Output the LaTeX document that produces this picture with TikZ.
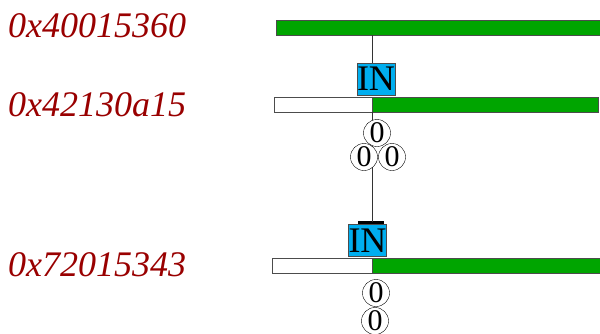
\documentclass[tikz,border=0pt]{standalone}
\usepackage{fontspec}
\setmainfont{Liberation Serif}
\definecolor{addrred}{RGB}{153,0,0}
\definecolor{bargreen}{RGB}{0,165,0}
\definecolor{inblue}{RGB}{0,174,239}
\tikzset{
  addr/.style={text=addrred,font=\fontsize{36}{40}\selectfont\itshape,anchor=base west,inner sep=0},
  greenbar/.style={draw=black!70,fill=bargreen,minimum height=15,inner sep=0,anchor=north west},
  whitebar/.style={draw=black!70,fill=white,minimum height=15,inner sep=0,anchor=north west},
  inbox/.style={draw=black!70,fill=inblue,minimum width=38,minimum height=32,inner sep=0,font=\fontsize{36}{36}\selectfont},
  zero/.style={draw,circle,fill=white,minimum size=27,inner sep=0,font=\fontsize{30}{30}\selectfont},
}
\begin{document}
\begin{tikzpicture}[x=1pt,y=-1pt]
        \useasboundingbox (0,0) rectangle (600,333);
        \node[addr] (L1) at (8,37) {0x40015360};
        \node[addr] (L2) at (8,116) {0x42130a15};
        \node[addr] (L3) at (8,276) {0x72015343};

        \node[greenbar,minimum width=330] (G1) at (276,20) {};

        \node[whitebar,minimum width=98] (W2) at (274,97) {};
        \node[greenbar,minimum width=226] (G2) at (372,97) {};

        \node[whitebar,minimum width=100] (W3) at (272,258) {};
        \node[greenbar,minimum width=234] (G3) at (372,258) {};

        \node[inbox] (IN1) at (376,79) {IN};
        \node[inbox] (IN2) at (367.5,240.5) {IN};
        \coordinate (T2) at (372,221.5);
        \draw[line width=3] (358,222.5) -- (384,222.5);

        \draw[black!80] (G2.north west |- G1.south) -- (G2.north west |- IN1.north);
        \draw[black!80] (G2.south west) -- (T2);

        \node[zero] (Z1) at (377,133) {0};
        \node[zero] (Z2) at (364,157) {0};
        \node[zero] (Z3) at (392,157) {0};
        \node[zero] (Z4) at (376,293) {0};
        \node[zero] (Z5) at (375,321) {0};
    \end{tikzpicture}
\end{document}
